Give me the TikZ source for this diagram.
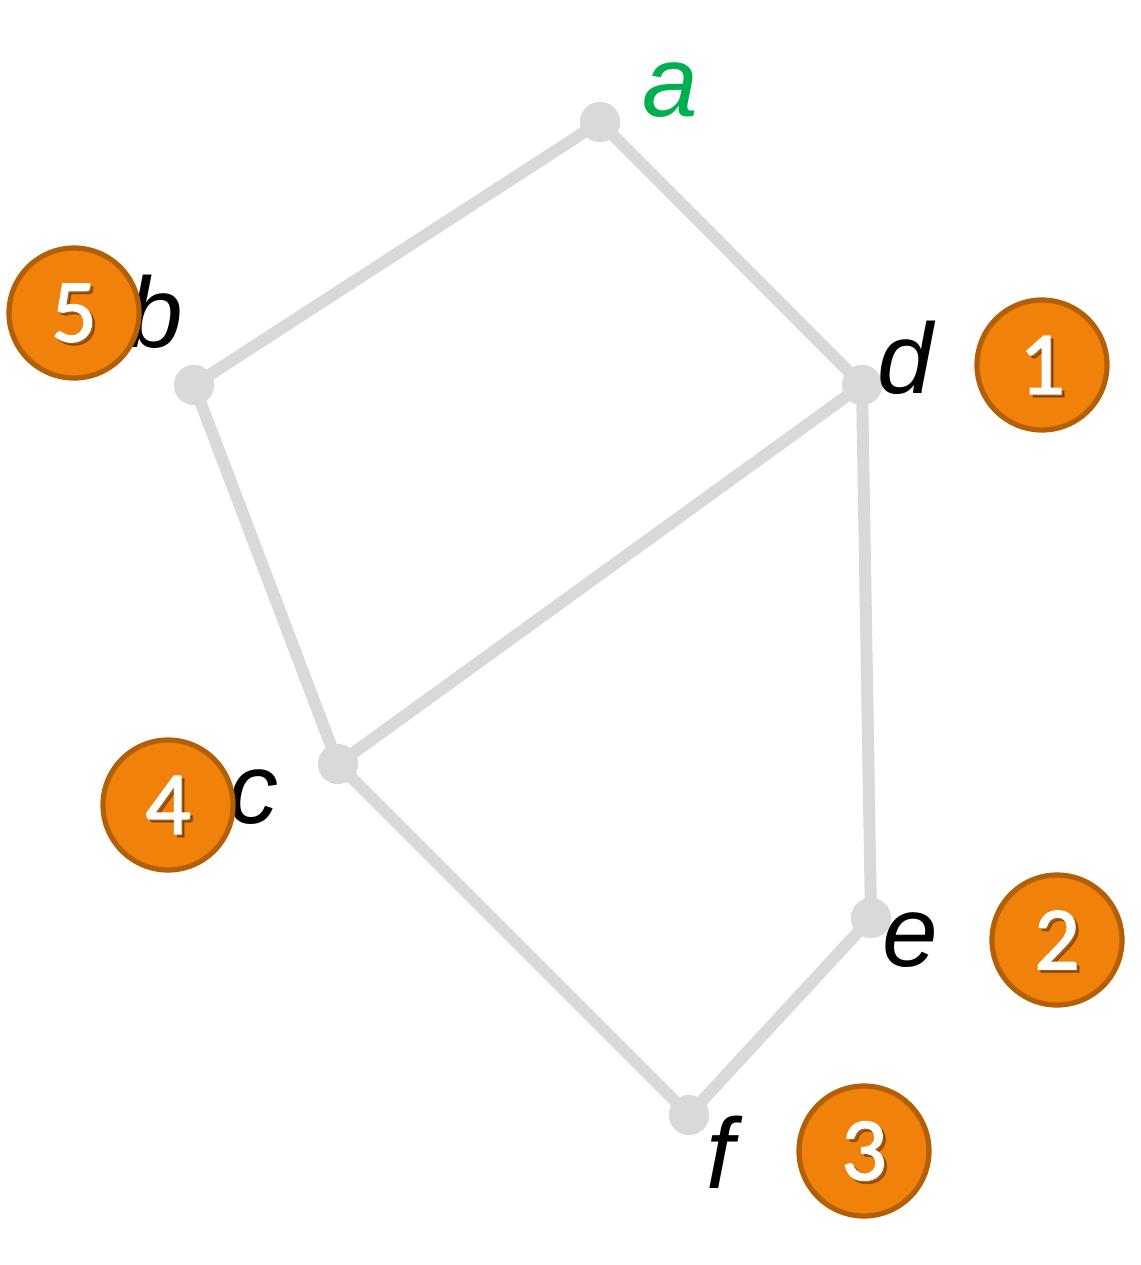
\documentclass[tikz,border=0pt]{standalone}
\usepackage{fontspec}
\setmainfont{Liberation Sans}
\newfontfamily\numfont[FakeBold=1.6]{Carlito}
\begin{document}
\begin{tikzpicture}[x=0.5pt,y=-0.5pt,
  vert/.style={circle,fill=edgegray,inner sep=0pt,minimum size=20pt},
  edge/.style={draw=edgegray,line width=6pt},
  lbl/.style={font=\fontsize{50}{50}\selectfont\itshape,inner sep=0pt},
  badge/.style={circle,fill=badgeorange,draw=badgeborder,line width=2.6pt,minimum size=65pt,inner sep=0pt},
  numtxt/.style={font=\numfont\fontsize{45}{45}\selectfont,text=white,inner sep=0pt},
  numshadow/.style={font=\numfont\fontsize{45}{45}\selectfont,text=black,opacity=0.3,inner sep=0pt}]
\definecolor{edgegray}{HTML}{D9D9D9}
\definecolor{badgeorange}{HTML}{F0820C}
\definecolor{badgeborder}{HTML}{B35F05}
\definecolor{agreen}{HTML}{00B050}
\useasboundingbox (0,0) rectangle (1141,1265);
% vertices
\node[vert] (a) at (600,122) {};
\node[vert] (b) at (194,385) {};
\node[vert] (c) at (338,764) {};
\node[vert] (d) at (862,385) {};
\node[vert] (e) at (871,918) {};
\node[vert] (f) at (689,1115) {};
% edges
\draw[edge] (a.center) -- (b.center);
\draw[edge] (a.center) -- (d.center);
\draw[edge] (b.center) -- (c.center);
\draw[edge] (c.center) -- (d.center);
\draw[edge] (d.center) -- (e.center);
\draw[edge] (c.center) -- (f.center);
\draw[edge] (f.center) -- (e.center);
% redraw vertices on top
\foreach \v in {a,b,c,d,e,f} \fill[edgegray] (\v.center) circle (10pt);
% labels
\node[lbl,text=agreen] (la) at (670,90) {a};
\node[lbl] (ld) at (905,358) {d};
\node[lbl] (le) at (910,940) {e};
\node[lbl] (lf) at (720,1152) {f};
% badges
\node[badge] (n1) at (1042,365) {};
\node[badge] (n2) at (1057,940) {};
\node[badge] (n3) at (864,1151) {};
\node[lbl] (lc) at (253,797) {c};
\node[badge] (n4) at (168,805) {};
\node[lbl] (lb) at (155,312) {b};
\node[badge] (n5) at (74,313) {};
\foreach \n/\t in {n1/1,n2/2,n3/3,n4/4,n5/5}{
  \node[numshadow] at ([xshift=1.5pt,yshift=-1.5pt]\n.center) {\t};
  \node[numtxt] at (\n.center) {\t};
}
\end{tikzpicture}
\end{document}
